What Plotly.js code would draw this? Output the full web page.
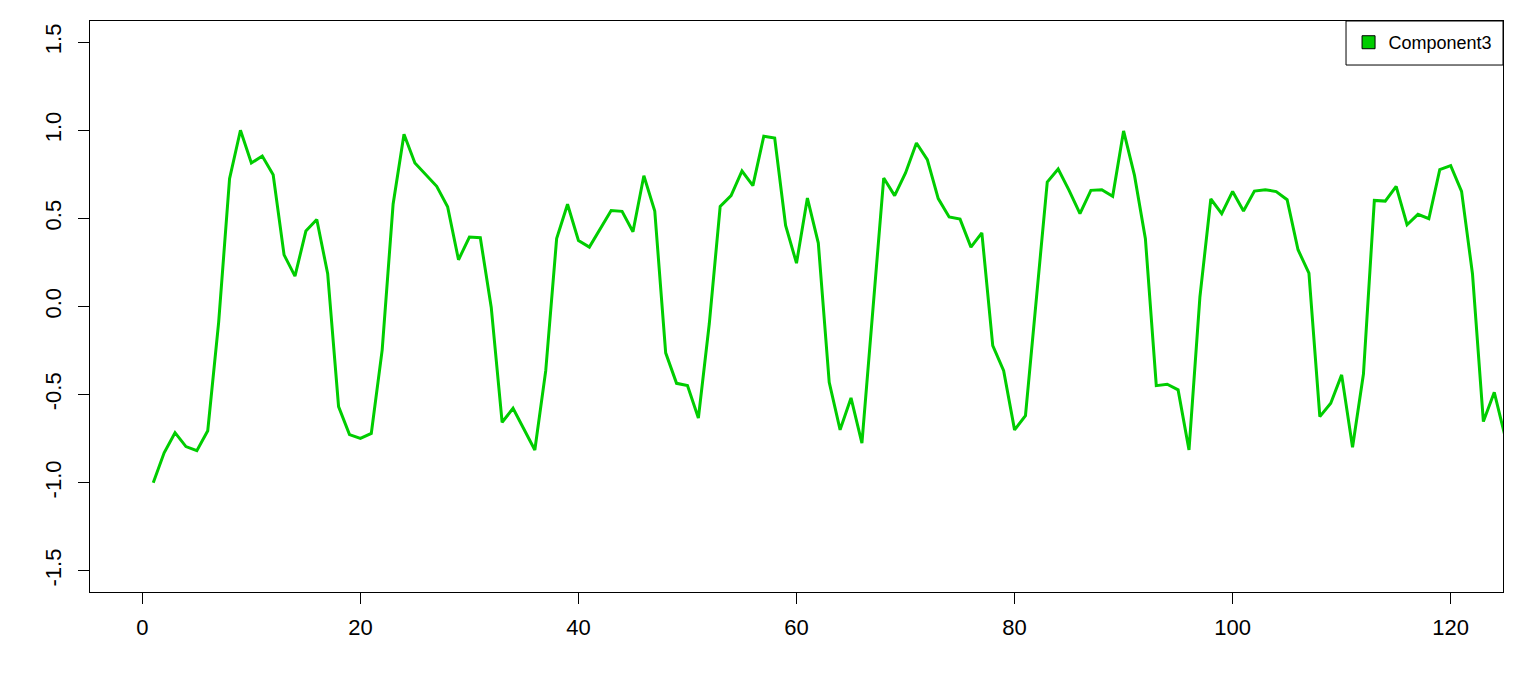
<!DOCTYPE html>
<html>
<head>
<meta charset="utf-8">
<script src="https://cdn.plot.ly/plotly-3.0.1.min.js"></script>
<style>html,body{margin:0;padding:0;background:#fff;}#chart{width:1515px;height:680px;}</style>
</head>
<body>
<div id="chart"></div>
<script>
const seriesName = "Component3";
const timeIndex = Array.from({length: 125}, (_, i) => i + 1);
const component3 = [
  -1.00, -0.83, -0.716, -0.795, -0.818, -0.705, -0.09, 0.725, 1.00, 0.814,
  0.854, 0.748, 0.293, 0.172, 0.428, 0.494, 0.186, -0.568, -0.727, -0.748,
  -0.72, -0.246, 0.58, 0.977, 0.814, 0.748, 0.682, 0.566, 0.265, 0.394,
  0.39, -0.004, -0.657, -0.578, -0.695, -0.814, -0.364, 0.385, 0.58, 0.375,
  0.337, 0.441, 0.545, 0.54, 0.424, 0.742, 0.542, -0.263, -0.436, -0.449,
  -0.633, -0.098, 0.568, 0.629, 0.769, 0.686, 0.966, 0.956, 0.46, 0.246,
  0.615, 0.36, -0.43, -0.70, -0.519, -0.775, -0.02, 0.729, 0.629, 0.758,
  0.928, 0.833, 0.612, 0.508, 0.496, 0.337, 0.418, -0.222, -0.364, -0.70,
  -0.619, 0.04, 0.706, 0.78, 0.659, 0.527, 0.659, 0.663, 0.625, 0.996,
  0.744, 0.385, -0.449, -0.441, -0.473, -0.814, 0.053, 0.61, 0.527, 0.653,
  0.542, 0.655, 0.663, 0.652, 0.606, 0.322, 0.189, -0.625, -0.549, -0.388,
  -0.799, -0.383, 0.602, 0.598, 0.682, 0.464, 0.523, 0.498, 0.777, 0.799,
  0.653, 0.186, -0.653, -0.487, -0.74
];
const xTickVals = [0, 20, 40, 60, 80, 100, 120];
const yTickVals = [-1.5, -1.0, -0.5, 0.0, 0.5, 1.0, 1.5];
const yTickText = ["-1.5", "-1.0", "-0.5", "0.0", "0.5", "1.0", "1.5"];

const green = "#00CD00";
const fontFam = "'Liberation Sans', Arial, Helvetica, sans-serif";

const traces = [
  {
    x: timeIndex, y: component3, type: "scatter", mode: "lines",
    line: {color: green, width: 3}, showlegend: false, name: seriesName,
    hoverinfo: "x+y"
  },
  {
    x: [null], y: [null], type: "scatter", mode: "markers", name: seriesName,
    marker: {symbol: "square", size: 13, color: green, line: {color: "#000", width: 1}},
    showlegend: true
  }
];

const layout = {
  width: 1515, height: 680,
  margin: {l: 90, r: 12, t: 21, b: 88, pad: 0},
  paper_bgcolor: "#fff", plot_bgcolor: "#fff",
  font: {family: fontFam, color: "#000", size: 22},
  xaxis: {
    range: [-4.8, 124.8], tickvals: xTickVals, showgrid: false, zeroline: false,
    showline: true, mirror: true, linecolor: "#000", linewidth: 1,
    ticks: "outside", ticklen: 11, tickcolor: "#000", tickwidth: 1,
    ticklabelstandoff: 5, tickfont: {size: 22, family: fontFam}
  },
  yaxis: {
    range: [-1.62, 1.62], tickvals: yTickVals, ticktext: yTickText,
    showgrid: false, zeroline: false,
    showline: true, mirror: true, linecolor: "#000", linewidth: 1,
    ticks: "outside", ticklen: 11, tickcolor: "#000", tickwidth: 1,
    tickangle: -90, ticklabelstandoff: 8, tickfont: {size: 22, family: fontFam}
  },
  legend: {
    x: 0.8907, xanchor: "left", y: 0.9623, yanchor: "middle",
    bgcolor: "rgba(0,0,0,0)", borderwidth: 0,
    font: {size: 18, family: fontFam, color: "#000"}
  },
  shapes: [
    {type: "rect", xref: "paper", yref: "paper", x0: 0.8889, x1: 1.0, y0: 0.9229, y1: 1.0,
     line: {color: "#000", width: 1}, fillcolor: "#fff", layer: "above"}
  ],
  showlegend: true
};

Plotly.newPlot("chart", traces, layout, {displayModeBar: false, staticPlot: true});
</script>
</body>
</html>
